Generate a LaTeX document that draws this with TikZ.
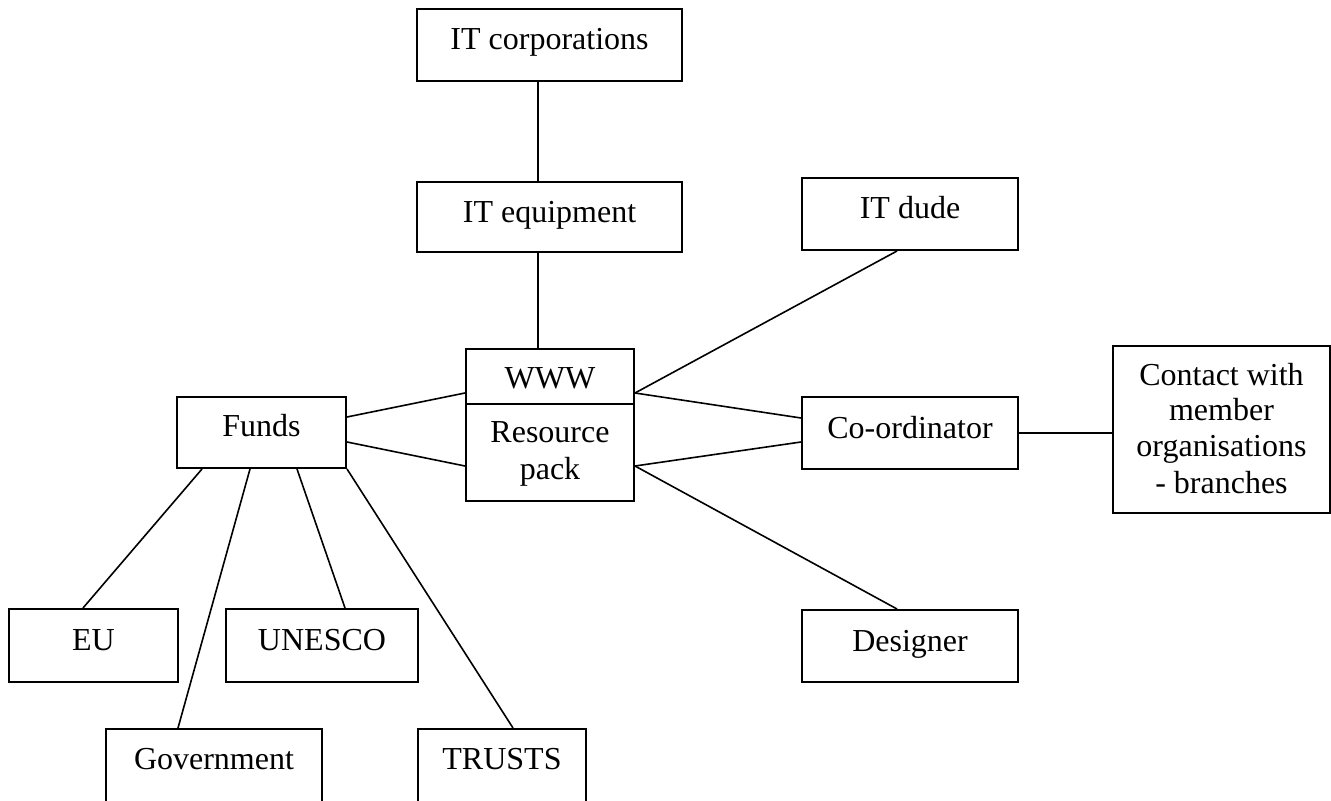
\documentclass[tikz,border=0pt]{standalone}
\usepackage{fontspec}
\setmainfont{Liberation Serif}
\usetikzlibrary{calc}
\begin{document}
\begin{tikzpicture}[x=0.5pt,y=-0.5pt,
  box/.style={draw, line width=1pt, rectangle, inner sep=0pt},
  lbl/.style={inner sep=0pt, anchor=base, font=\fontsize{16pt}{18pt}\selectfont},
  mlbl/.style={inner sep=0pt, anchor=base, align=center, font=\fontsize{16pt}{18pt}\selectfont},
  link/.style={line width=0.8pt}]
\useasboundingbox (0,0) rectangle (1331,801);
\clip (0,0) rectangle (1331,801);
% boxes
\node[box, minimum width=132.5pt, minimum height=36pt] (itcorp) at (549.5,45) {};
\node[box, minimum width=132.5pt, minimum height=35pt] (itequip) at (549.5,217) {};
\node[box, minimum width=108pt, minimum height=36pt] (itdude) at (910,214) {};
\node[box, minimum width=84pt, minimum height=76pt] (www) at (550,425) {};
\node[box, minimum width=84.5pt, minimum height=35.5pt] (funds) at (261.5,432.5) {};
\node[box, minimum width=108pt, minimum height=36pt] (coord) at (910,433) {};
\node[box, minimum width=108.5pt, minimum height=83.5pt] (contact) at (1221.5,429.5) {};
\node[box, minimum width=108pt, minimum height=36pt] (designer) at (910,646) {};
\node[box, minimum width=84.5pt, minimum height=36.5pt] (eu) at (93.5,645.5) {};
\node[box, minimum width=96pt, minimum height=36.5pt] (unesco) at (322,645.5) {};
\node[box, minimum width=108pt, minimum height=38pt] (gov) at (214,767) {};
\node[box, minimum width=84pt, minimum height=38pt] (trusts) at (502,767) {};
% divider in WWW box
\draw[line width=1pt] ($(www.north west)+(0,56)$) coordinate (divl) -- ($(www.north east)+(0,56)$) coordinate (divr);
% labels
\node[lbl] (itcorp-t) at ($(itcorp.north)+(0,42)$) {IT corporations};
\node[lbl] (itequip-t) at ($(itequip.north)+(0,42)$) {IT equipment};
\node[lbl] (itdude-t) at ($(itdude.north)+(0,42)$) {IT dude};
\node[lbl] (www-t) at ($(www.north)+(0,41)$) {WWW};
\node[mlbl] (res-t) at ($(www.north)+(0,131)$) {Resource\\pack};
\node[lbl] (funds-t) at ($(funds.north)+(0,41)$) {Funds};
\node[lbl] (coord-t) at ($(coord.north)+(0,42)$) {Co-ordinator};
\node[mlbl] (contact-t) at ($(contact.north)+(0,148)$) {Contact with\\member\\organisations\\- branches};
\node[lbl] (designer-t) at ($(designer.north)+(0,42)$) {Designer};
\node[lbl] (eu-t) at ($(eu.north)+(0,42)$) {EU};
\node[lbl] (unesco-t) at ($(unesco.north)+(0,42)$) {UNESCO};
\node[lbl] (gov-t) at ($(gov.north)+(0,41)$) {Government};
\node[lbl] (trusts-t) at ($(trusts.north)+(0,41)$) {TRUSTS};
% connectors
\draw[link] ($(itcorp.south)+(-11.5,0)$) -- ($(itequip.north)+(-11.5,0)$);
\draw[link] ($(itequip.south)+(-11.5,0)$) -- ($(www.north)+(-12,0)$);
\draw[link] ($(itdude.south)+(-13,0)$) -- ($(www.east)+(0,-32)$);
\draw[link] ($(coord.west)+(0,-15)$) -- ($(www.east)+(0,-32)$);
\draw[link] ($(coord.west)+(0,9)$) -- ($(www.east)+(0,41)$);
\draw[link] ($(designer.north)+(-13,0)$) -- ($(www.east)+(0,41)$);
\draw[link] ($(funds.east)+(0,-15.5)$) -- ($(www.west)+(0,-32)$);
\draw[link] ($(funds.east)+(0,9.5)$) -- ($(www.west)+(0,41)$);
\draw[link] ($(funds.south)+(-59.5,0)$) -- ($(eu.north)+(-10.5,0)$);
\draw[link] ($(funds.south)+(-11.5,0)$) -- ($(gov.north)+(-36,0)$);
\draw[link] ($(funds.south)+(35.5,0)$) -- ($(unesco.north)+(23,0)$);
\draw[link] (funds.south east) -- ($(trusts.north)+(11,0)$);
\draw[link] (coord.east) -- (coord.east -| contact.west);
\end{tikzpicture}
\end{document}
